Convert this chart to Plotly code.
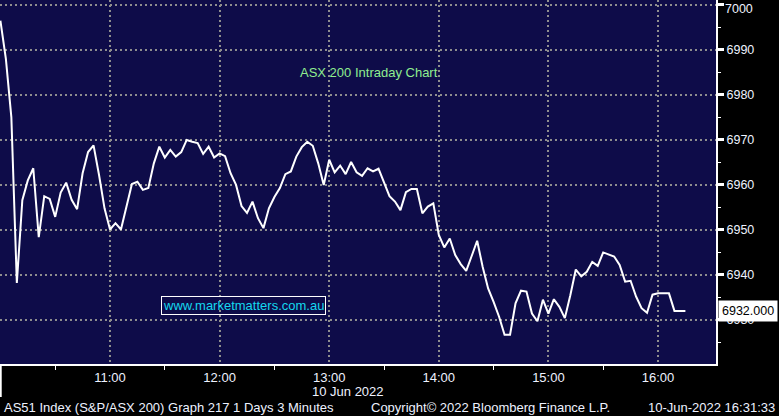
import plotly.graph_objects as go
import pandas as pd

# ---- data (ASX 200, 3-minute bars, 10 Jun 2022) ----
start_time = "2022-06-10 10:00"
bar_minutes = 3
prices = [
    6996.5, 6988.0, 6975.0, 6938.2, 6956.6, 6961.0, 6963.7, 6948.4, 6957.5, 6956.9,
    6952.9, 6958.3, 6960.5, 6956.7, 6954.6, 6962.6, 6967.3, 6968.8, 6962.2, 6954.8,
    6950.1, 6951.5, 6950.1, 6954.9, 6960.2, 6960.7, 6958.9, 6959.3, 6964.8, 6968.5,
    6966.1, 6967.8, 6966.3, 6967.3, 6970.0, 6969.6, 6969.3, 6966.9, 6968.5, 6966.1,
    6967.0, 6966.4, 6962.6, 6960.0, 6955.3, 6953.8, 6956.3, 6952.6, 6950.4, 6954.8,
    6957.3, 6959.3, 6962.4, 6963.0, 6966.3, 6968.4, 6969.6, 6968.7, 6964.8, 6960.0,
    6965.6, 6962.8, 6964.3, 6962.4, 6965.1, 6962.8, 6962.0, 6963.7, 6963.0, 6963.6,
    6960.7, 6957.5, 6956.3, 6954.4, 6958.4, 6959.1, 6959.1, 6953.7, 6955.2, 6955.9,
    6948.9, 6946.1, 6948.1, 6944.4, 6942.4, 6940.9, 6944.2, 6947.6, 6941.8, 6937.0,
    6934.0, 6930.7, 6926.7, 6926.7, 6933.7, 6936.5, 6936.3, 6931.4, 6929.7, 6934.5,
    6931.4, 6934.6, 6932.9, 6930.4, 6935.5, 6941.2, 6939.7, 6940.7, 6942.9, 6942.0,
    6945.0, 6944.6, 6944.1, 6942.2, 6938.5, 6938.7, 6935.2, 6932.6, 6931.6, 6935.6,
    6935.9, 6935.9, 6935.9, 6932.0, 6932.0, 6932.0,
]
last_price = 6932.000
x_tick_vals = ["2022-06-10 10:00", "2022-06-10 11:00", "2022-06-10 12:00", "2022-06-10 13:00",
               "2022-06-10 14:00", "2022-06-10 15:00", "2022-06-10 16:00"]
x_tick_text = ["", "11:00", "12:00", "13:00", "14:00", "15:00", "16:00"]
x_minor_vals = ["2022-06-10 10:30", "2022-06-10 11:30", "2022-06-10 12:30",
                "2022-06-10 13:30", "2022-06-10 14:30", "2022-06-10 15:30"]
y_tick_vals = [6930, 6940, 6950, 6960, 6970, 6980, 6990, 7000]
y_tick_text = ["6930", "6940", "6950", "6960", "6970", "6980", "6990", ""]
y_top_label = 7000
x_range = ["2022-06-10 09:59:47", "2022-06-10 16:31:45"]
y_range = [6920.2, 7001.1]

times = pd.date_range(start_time, periods=len(prices), freq=f"{bar_minutes}min")

BG = "#0e0c49"
GRID = "#8e8e8e"
TXT = "#eef2ff"
FONT = "Liberation Sans"

fig = go.Figure()
fig.add_trace(go.Scatter(x=times, y=prices, mode="lines",
                         line=dict(color="white", width=2), hoverinfo="skip",
                         showlegend=False))

fig.update_layout(
    width=779, height=416,
    margin=dict(l=0, r=63, t=0, b=52),
    paper_bgcolor="black", plot_bgcolor=BG,
    font=dict(family=FONT, color=TXT, size=13),
    showlegend=False,
)

fig.update_xaxes(
    type="date", range=x_range,
    tickvals=x_tick_vals, ticktext=x_tick_text,
    ticks="", showgrid=True, gridcolor=GRID, gridwidth=2, griddash="2px,3px",
    showline=True, linecolor="white", linewidth=2,
    tickfont=dict(family=FONT, size=13, color=TXT),
    minor=dict(tickvals=x_minor_vals, ticks="outside", ticklen=4, tickcolor="white",
               tickwidth=1, showgrid=False),
    zeroline=False, automargin=False,
)
fig.update_yaxes(
    side="right", range=y_range, tickvals=y_tick_vals, ticktext=y_tick_text,
    ticks="outside", ticklen=6, tickwidth=3, tickcolor="white",
    showgrid=True, gridcolor=GRID, gridwidth=2, griddash="2px,3px",
    showline=True, linecolor="white", linewidth=2,
    tickfont=dict(family=FONT, size=12.5, color=TXT),
    ticklabeloverflow="allow",
    minor=dict(dtick=5, ticks="outside", ticklen=3, tickcolor="white", tickwidth=1,
               showgrid=False),
    zeroline=False, automargin=False,
)

W, H = 716.0, 364.0
# top tick label nudged down so it stays inside the picture (as in the reference)
fig.add_annotation(text=str(y_top_label), xref="paper", yref="y", x=1, y=y_top_label,
                   xanchor="left", yanchor="middle", xshift=7, yshift=-4, showarrow=False,
                   font=dict(family=FONT, size=12.5, color=TXT))
fig.add_annotation(text="ASX 200 Intraday Chart", xref="paper", yref="paper",
                   x=369 / W, y=1 - 73 / H, yanchor="middle", showarrow=False,
                   font=dict(family=FONT, size=13, color="#90ee90"))
fig.add_annotation(text="www.marketmatters.com.au", xref="paper", yref="paper",
                   x=161 / W, y=1 - 305 / H, yanchor="middle", showarrow=False,
                   bordercolor="white", borderwidth=1, borderpad=1,
                   font=dict(family=FONT, size=13, color="#14d8ee"))
fig.add_annotation(text=f"{last_price:.3f}", xref="paper", yref="y",
                   x=1, y=last_price, xanchor="left", xshift=2, showarrow=False,
                   bgcolor="white", borderpad=3,
                   font=dict(family=FONT, size=12.5, color="black"))
fig.add_annotation(text="10 Jun 2022", xref="paper", yref="paper",
                   x=347.5 / W, y=-(391 - H) / H, yanchor="middle", showarrow=False,
                   font=dict(family=FONT, size=13, color=TXT))
fig.add_annotation(text="AS51 Index (S&P/ASX 200) Graph 217 1 Days 3 Minutes",
                   xref="paper", yref="paper", x=2 / W, y=-(407 - H) / H,
                   xanchor="left", yanchor="middle", showarrow=False,
                   font=dict(family=FONT, size=13, color=TXT))
fig.add_annotation(text="Copyright© 2022 Bloomberg Finance L.P.",
                   xref="paper", yref="paper", x=369 / W, y=-(407 - H) / H,
                   xanchor="left", yanchor="middle", showarrow=False,
                   font=dict(family=FONT, size=13, color=TXT))
fig.add_annotation(text="10-Jun-2022 16:31:33",
                   xref="paper", yref="paper", x=777 / W, y=-(407 - H) / H,
                   xanchor="right", yanchor="middle", showarrow=False,
                   font=dict(family=FONT, size=13, color=TXT))
fig.add_shape(type="line", xref="paper", yref="paper", x0=0.001, x1=0.001,
              y0=0, y1=-(397 - H) / H, line=dict(color="white", width=2))

fig.write_html("out.html", config={"displayModeBar": False},
               post_script="document.body.style.margin='0';document.body.style.overflow='hidden';")
